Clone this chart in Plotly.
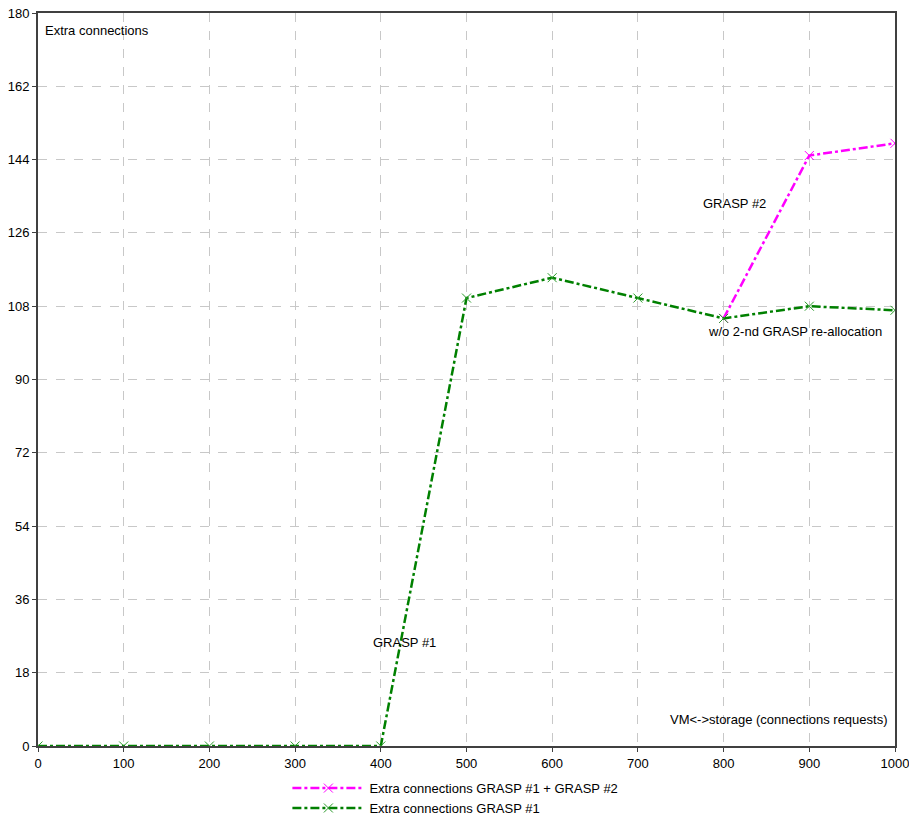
import plotly.graph_objects as go

x_requests = [0, 100, 200, 300, 400, 500, 600, 700, 800, 900, 1000]
grasp1 = [0, 0, 0, 0, 0, 110, 115, 110, 105, 108, 107]
grasp12_x = [800, 900, 1000]
grasp12 = [105, 145, 148]
y_ticks = [0, 18, 36, 54, 72, 90, 108, 126, 144, 162, 180]
x_ticks = [0, 100, 200, 300, 400, 500, 600, 700, 800, 900, 1000]

FONT = "Liberation Sans, Arial, sans-serif"

fig = go.Figure()
fig.add_trace(go.Scatter(
    x=grasp12_x, y=grasp12, mode="lines+markers",
    name="Extra connections GRASP #1 + GRASP #2",
    line=dict(color="#ff00ff", width=2.5, dash="dashdot"),
    marker=dict(symbol="x-thin", size=9, line=dict(color="#ff00ff", width=1)),
))
fig.add_trace(go.Scatter(
    x=x_requests, y=grasp1, mode="lines+markers",
    name="Extra connections GRASP #1",
    line=dict(color="#008000", width=2.5, dash="dashdot"),
    marker=dict(symbol="x-thin", size=9, line=dict(color="#2a9a2a", width=1)),
))

axis_common = dict(
    showgrid=True, gridcolor="#c8c8c8", griddash="dash", gridwidth=1,
    showline=True, linecolor="#404040", linewidth=2, mirror=True,
    ticks="outside", ticklen=4, tickcolor="#404040",
    tickfont=dict(family=FONT, size=13, color="#000000"),
    zeroline=False, automargin=False, ticklabeloverflow="allow",
)
fig.update_xaxes(range=[0, 1000], tickvals=x_ticks, **axis_common)
fig.update_yaxes(range=[0, 180], tickvals=y_ticks, **axis_common)

annots = [
    dict(x=0.006, y=0.989, xref="paper", yref="paper", text="Extra connections",
         xanchor="left", yanchor="top"),
    dict(x=428, y=25.3, text="GRASP #1", xanchor="center", yanchor="middle"),
    dict(x=813, y=133.3, text="GRASP #2", xanchor="center", yanchor="middle"),
    dict(x=883, y=101.9, text="w/o 2-nd GRASP re-allocation", xanchor="center", yanchor="middle"),
    dict(x=0.994, y=6.4, xref="paper", yref="y", text="VM<->storage (connections requests)",
         xanchor="right", yanchor="middle"),
]
for a in annots:
    a.setdefault("xref", "x")
    a.setdefault("yref", "y")
    fig.add_annotation(showarrow=False, font=dict(family=FONT, size=13, color="#000000"), **a)

fig.update_layout(
    width=909, height=837,
    margin=dict(l=38, r=14, t=13, b=91),
    paper_bgcolor="white", plot_bgcolor="white",
    font=dict(family=FONT, size=13, color="#000000"),
    legend=dict(x=0.291, y=-0.037, xanchor="left", yanchor="top",
                traceorder="normal", tracegroupgap=0, itemwidth=72,
                font=dict(family=FONT, size=13), bgcolor="rgba(0,0,0,0)"),
    showlegend=True,
)

fig.write_html(
    "out.html",
    config={"displayModeBar": False},
    post_script="document.body.style.margin='0';document.body.style.overflow='hidden';",
)
